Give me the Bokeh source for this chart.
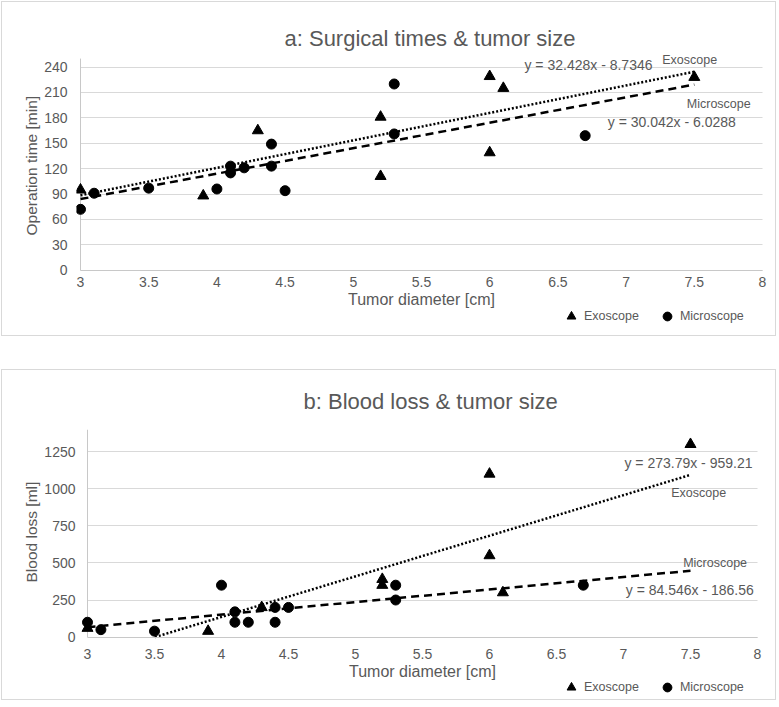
from bokeh.plotting import figure
from bokeh.models import Label, Legend, LegendItem, FixedTicker, Range1d, Title
from bokeh.layouts import column
from bokeh.embed import file_html
from bokeh.resources import INLINE

# ---------------- data ----------------
size_ticks = [3, 3.5, 4, 4.5, 5, 5.5, 6, 6.5, 7, 7.5, 8]
time_ticks = [0, 30, 60, 90, 120, 150, 180, 210, 240]
blood_ticks = [0, 250, 500, 750, 1000, 1250]

exo_size = [3.0, 3.9, 4.3, 5.2, 5.2, 6.0, 6.1, 6.0, 7.5]
exo_time = [95, 88, 165, 111, 181, 229, 215, 139, 228]
mic_size = [3.0, 3.1, 3.5, 4.0, 4.1, 4.1, 4.2, 4.4, 4.4, 4.5, 5.3, 5.3, 6.7]
mic_time = [72, 91, 97, 96, 123, 115, 121, 149, 123, 94, 220, 161, 159]

exo_blood_size = [3.0, 3.9, 4.3, 5.2, 5.2, 6.0, 6.0, 6.1, 7.5]
exo_blood = [60, 40, 200, 390, 350, 1100, 550, 300, 1300]
mic_blood_size = [3.0, 3.1, 3.5, 4.0, 4.1, 4.1, 4.2, 4.4, 4.4, 4.5, 5.3, 5.3, 6.7]
mic_blood = [100, 50, 40, 350, 170, 100, 100, 200, 100, 200, 350, 250, 350]

# trendline equations (slope, intercept) as printed on the chart
exo_time_fit = (32.428, -8.7346)
mic_time_fit = (30.042, -6.0288)
exo_blood_fit = (273.79, -959.21)
mic_blood_fit = (84.546, -186.56)
trend_span = (3.0, 7.5)

FONT = "Liberation Sans"
TXT = "#595959"
GRID = "#d9d9d9"
AXIS = "#c8c8c8"


def trend(fit):
    m, b = fit
    x0 = max(trend_span[0], -b / m)  # the trendline stops at the value axis minimum (0)
    xs = [x0, trend_span[1]]
    return xs, [m * x + b for x in xs]


def make_panel(title, ylabel, xr, yr, ytop, yticks, ex, ey, mx, my, efit, mfit,
               width, height, bt, title_offset, title_standoff,
               ylabel_offset, labels, legend_loc, ytick_standoff,
               xtick_standoff, xlab_standoff):
    p = figure(width=width, height=height, x_range=Range1d(*xr), y_range=Range1d(*yr),
               output_backend="svg", toolbar_location=None,
               min_border_left=74, min_border_right=9, min_border_top=bt, min_border_bottom=2,
               background_fill_color="white", border_fill_color="white")
    p.styles = {"border": "1px solid #d9d9d9"}
    p.outline_line_color = None
    p.title.text = title
    p.title.align = "left"
    p.title.offset = title_offset
    p.title.text_font = FONT
    p.title.text_font_size = "22px"
    p.title.text_font_style = "normal"
    p.title.text_color = TXT
    p.title.standoff = title_standoff

    p.xgrid.visible = False
    p.ygrid.grid_line_color = GRID
    p.ygrid.grid_line_width = 1
    p.ygrid.cross_bounds = (3, 8)

    p.xaxis.ticker = FixedTicker(ticks=size_ticks)
    p.xaxis.major_label_overrides = {t: f"{t:g}" for t in size_ticks}
    p.xaxis.fixed_location = 0
    p.xaxis.bounds = (3, 8)
    p.yaxis.ticker = FixedTicker(ticks=yticks)
    p.xaxis.axis_label = "Tumor diameter [cm]"
    for ax in (p.xaxis, p.yaxis):
        ax.axis_line_color = AXIS
        ax.major_tick_line_color = None
        ax.minor_tick_line_color = None
        ax.major_tick_out = 0
        ax.major_label_text_font = FONT
        ax.major_label_text_font_size = "14px"
        ax.major_label_text_color = TXT
        ax.axis_label_text_font = FONT
        ax.axis_label_text_font_size = "16px"
        ax.axis_label_text_font_style = "normal"
        ax.axis_label_text_color = TXT
    p.yaxis.axis_line_color = None
    p.xaxis.major_label_standoff = xtick_standoff
    p.xaxis.axis_label_standoff = xlab_standoff
    p.yaxis.major_label_standoff = ytick_standoff

    # y axis title as a vertical title in the left panel
    p.add_layout(Title(text=ylabel, align="left", offset=ylabel_offset, standoff=4,
                       text_font=FONT, text_font_size="15.5px", text_font_style="normal",
                       text_color=TXT), "left")

    # value-axis line at x = 3 from 0 to the top of the axis
    p.segment(x0=[3], y0=[0], x1=[3], y1=[ytop], line_color=AXIS, line_width=1)

    tx, ty = trend(efit)
    p.line(tx, ty, line_color="black", line_width=2.5, line_dash="2 2")
    tx, ty = trend(mfit)
    p.line(tx, ty, line_color="black", line_width=2.5, line_dash="8 5")
    r_exo = p.scatter(ex, ey, marker="triangle", size=11, color="black")
    r_mic = p.scatter(mx, my, marker="circle", size=10, color="black")

    for (txt, x, y, fs) in labels:
        p.add_layout(Label(x=x, y=y, text=txt, text_font=FONT, text_font_size=fs,
                           text_color=TXT, text_align="left", text_baseline="middle"))

    legend = Legend(items=[LegendItem(label="Exoscope", renderers=[r_exo]),
                           LegendItem(label="Microscope", renderers=[r_mic])],
                    orientation="horizontal", location=legend_loc,
                    glyph_width=22, glyph_height=22, label_standoff=2, spacing=17,
                    padding=0, margin=0, border_line_color=None,
                    background_fill_alpha=0, label_text_font=FONT,
                    label_text_font_size="12.5px", label_text_color=TXT)
    p.add_layout(legend)
    return p


pa = make_panel("a: Surgical times & tumor size", "Operation time [min]",
                (2.97067, 8.04399), (-77, 256), 250, time_ticks,
                exo_size, exo_time, mic_size, mic_time, exo_time_fit, mic_time_fit,
                775, 335, 51, 208, 6, 100,
                [("y = 32.428x - 8.7346", 6.255, 242, "14px"),
                 ("Exoscope", 7.265, 248, "12.5px"),
                 ("Microscope", 7.445, 196, "12.5px"),
                 ("y = 30.042x - 6.0288", 6.866, 175, "14px")],
                (484, 8), 9, 7, 0)

pb = make_panel("b: Blood loss & tumor size", "Blood loss [ml]",
                (2.91791, 8.08209), (-421, 1400), 1400, blood_ticks,
                exo_blood_size, exo_blood, mic_blood_size, mic_blood, exo_blood_fit, mic_blood_fit,
                775, 331, 58, 227, 32, 117,
                [("y = 273.79x - 959.21", 7.007, 1176, "14px"),
                 ("Exoscope", 7.356, 975, "12.5px"),
                 ("Microscope", 7.445, 499, "12.5px"),
                 ("y = 84.546x - 186.56", 7.017, 320, "14px")],
                (484, 1), 1, 12, 0)

layout = column(pa, pb, spacing=33, margin=(1, 0, 0, 1))

open("out.html", "w").write(file_html(layout, INLINE))
